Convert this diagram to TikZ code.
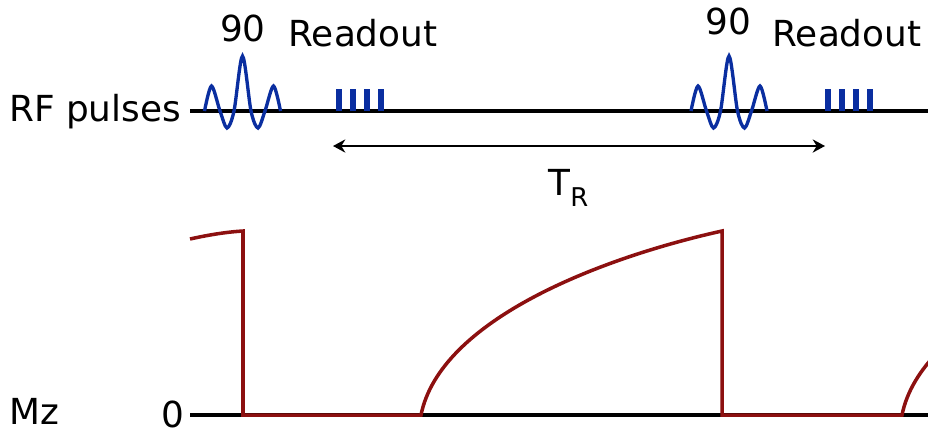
\documentclass[tikz,border=0pt]{standalone}
\usepackage{fontspec}
\setmainfont{DejaVu Sans}
\usetikzlibrary{arrows.meta}

\definecolor{mzred}{RGB}{140,16,16}
\definecolor{pulseblue}{RGB}{10,46,160}

% one 90 degree sinc pulse centred at #1, sitting on the RF line
\newcommand{\sincpulse}[1]{%
  \draw[pulse] plot[smooth] coordinates {({#1-38},111) ({#1-31},86) ({#1-22.5},111)
    ({#1-15.5},128) ({#1-8.5},111) (#1,56) ({#1+8.5},111) ({#1+15.5},128)
    ({#1+22.5},111) ({#1+31},86) ({#1+38},111)};}

% four readout bars, the first at #1
\newcommand{\readoutbars}[1]{%
  \foreach \i in {0,...,3}
    \draw[bar] ({#1+\i*14},111) -- ({#1+\i*14},89);}

\begin{document}
\begin{tikzpicture}[x=0.02cm, y=-0.02cm,
    font=\fontsize{20.4}{24}\selectfont,
    label/.style={inner sep=0pt},
    axis/.style={line width=2.5pt, black},
    pulse/.style={line width=1.9pt, pulseblue},
    bar/.style={line width=3.4pt, pulseblue},
    mzcurve/.style={line width=2pt, mzred, line join=miter},
    span/.style={line width=1.5pt, {Stealth[length=7pt,width=7.5pt]}-{Stealth[length=7pt,width=7.5pt]}}]

	\useasboundingbox (0,0) rectangle (928,434);

	% Axes
	\def\rfy{111}
	\def\mzy{415}
	\draw[axis] (190,\rfy) -- (928,\rfy);
	\draw[axis] (190,\mzy) -- (928,\mzy);

	% Axis labels
	\node[label, anchor=base west] (rflabel) at (9,121) {RF pulses};
	\node[label, anchor=base west] (mzlabel) at (9,424) {Mz};
	\node[label, anchor=base east] (zero) at (185,427) {0};

	% Pulses and readouts
	\sincpulse{242.5}
	\sincpulse{729}
	\readoutbars{339}
	\readoutbars{828}

	\node[label, anchor=base] (ninetyA) at (243,41) {90};
	\node[label, anchor=base] (readoutA) at (363,46) {Readout};
	\node[label, anchor=base] (ninetyB) at (728,34) {90};
	\node[label, anchor=base] (readoutB) at (847,46) {Readout};

	% Repetition time
	\coordinate (trL) at (333,146);
	\coordinate (trR) at (825,146);
	\draw[span] (trL) -- (trR);
	\node[label, anchor=base west] (tr) at (548,195)
	  {T\raisebox{-6.8pt}{\fontsize{14.7}{17}\selectfont R}};

	% Longitudinal magnetisation
	\begin{scope}
	\clip (0,0) rectangle (928,434);
	\draw[mzcurve] (190,239) .. controls (208,235) and (226,232) .. (243,231)
	  -- (243,\mzy) -- (421,\mzy)
	  .. controls (440,320) and (600,258) .. (722,231)
	  -- (722,\mzy) -- (902,\mzy)
	  .. controls (921,320) and (1081,258) .. (1202,231);
	\end{scope}

\end{tikzpicture}
\end{document}
